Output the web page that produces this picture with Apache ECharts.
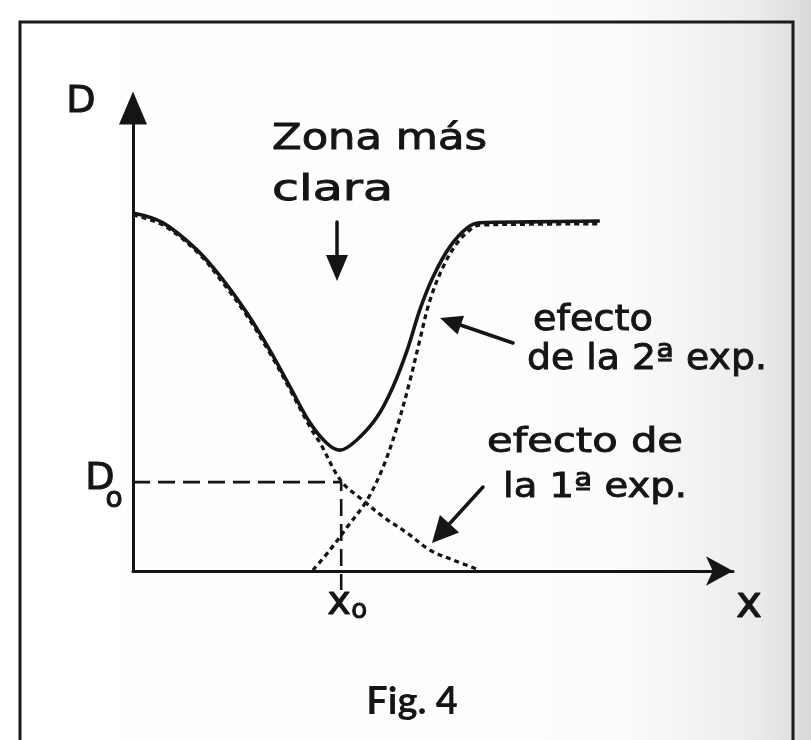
<!DOCTYPE html>
<html>
<head>
<meta charset="utf-8">
<script src="https://cdn.jsdelivr.net/npm/echarts@6/dist/echarts.min.js"></script>
<style>
  html, body { margin: 0; padding: 0; background: #ffffff; }
  #chart { width: 811px; height: 740px; }
</style>
</head>
<body>
<div id="chart"></div>
<script>
// Position along x (0..100) and density D (0..100) of each sketched curve.
// Solid line: total density after both exposures.
const totalX = [0, 5.0, 10.7, 15.0, 19.0, 22.8, 26.2, 29.5, 32.3, 34.5, 37.3, 40.7, 43.3, 45.7, 47.8, 50.0, 52.8, 55.7, 57.8, 66.2, 77.8];
const totalD = [77.3, 75.2, 69.3, 62.9, 55.7, 47.7, 39.7, 32.0, 27.6, 26.1, 28.3, 33.3, 39.7, 47.7, 56.4, 63.5, 70.0, 74.1, 75.2, 75.4, 75.6];
// Dotted line: effect of the first exposure.
const firstX = [0, 5.0, 10.7, 15.0, 19.0, 22.8, 26.2, 29.5, 31.2, 34.7, 38.3, 41.7, 45.7, 49.5, 53.3, 57.8];
const firstD = [76.9, 74.7, 68.9, 62.2, 55.1, 47.1, 39.1, 31.1, 27.6, 19.4, 15.3, 11.7, 8.2, 4.5, 2.4, 0.2];
// Dotted line: effect of the second exposure.
const secondX = [30.0, 32.8, 35.7, 39.0, 41.7, 44.0, 46.2, 47.8, 49.5, 51.7, 54.0, 56.2, 57.8, 66.2, 77.8];
const secondD = [0.2, 4.5, 9.5, 15.3, 22.5, 31.1, 41.3, 49.9, 58.5, 65.7, 70.8, 73.7, 74.7, 74.9, 75.0];
// Reference point: position x0 and density D0.
const x0 = 34.7;
const D0 = 19.2;
const guideBottom = -4.1;

// Texts
const axisNameY = 'D';
const axisNameX = 'x';
const refNameY = ['D', 'o'];
const refNameX = ['x', 'o'];
const noteClear = ['Zona más', 'clara'];
const noteSecond = ['efecto', 'de la 2ª exp.'];
const noteFirst = ['efecto de', 'la 1ª exp.'];
const caption = 'Fig. 4';

const INK = '#151515';
const HAND = '"DejaVu Sans", sans-serif';

const pairs = (xs, ys) => xs.map((x, i) => [x, ys[i]]);

const chart = echarts.init(document.getElementById('chart'), null, { renderer: 'canvas' });

const axisCommon = {
  type: 'value',
  min: 0,
  max: 100,
  axisTick: { show: false },
  axisLabel: { show: false },
  splitLine: { show: false }
};

chart.setOption({
  animation: false,
  grid: { left: 133, right: 78, top: 108, bottom: 169, containLabel: false },
  xAxis: Object.assign({}, axisCommon, {
    axisLine: { show: true, onZero: false, symbol: ['none', 'arrow'], symbolSize: [22, 27],
      lineStyle: { color: INK, width: 3 } }
  }),
  yAxis: Object.assign({}, axisCommon, {
    axisLine: { show: true, onZero: false, symbol: ['none', 'triangle'], symbolSize: [28, 33],
      lineStyle: { color: INK, width: 3 } }
  }),
  series: [
    {
      name: 'D0 / x0',
      type: 'line',
      data: [[0, D0], [x0, D0], [x0, guideBottom]],
      showSymbol: false,
      clip: false,
      lineStyle: { color: INK, width: 2.6, type: [17, 8] },
      z: 2
    },
    {
      name: 'efecto de la 1ª exp.',
      type: 'line',
      data: pairs(firstX, firstD),
      smooth: 0.35,
      showSymbol: false,
      lineStyle: { color: INK, width: 3.3, type: [5, 4] },
      z: 3
    },
    {
      name: 'efecto de la 2ª exp.',
      type: 'line',
      data: pairs(secondX, secondD),
      smooth: 0.35,
      showSymbol: false,
      lineStyle: { color: INK, width: 3.3, type: [5, 4] },
      z: 3
    },
    {
      name: 'total',
      type: 'line',
      data: pairs(totalX, totalD),
      smooth: 0.35,
      showSymbol: false,
      lineStyle: { color: INK, width: 3.6 },
      z: 4
    }
  ]
});

// Text helpers: handwritten labels are stretched horizontally to a target width.
const measureCtx = document.createElement('canvas').getContext('2d');
function handText(str, left, midY, width, size) {
  measureCtx.font = size + 'px ' + HAND;
  const w = measureCtx.measureText(str).width;
  return {
    type: 'text', x: left, y: midY, scaleX: width / w, z: 20,
    style: {
      text: str, fontSize: size, fontFamily: HAND, fill: INK, stroke: INK, lineWidth: 0.9,
      align: 'left', verticalAlign: 'middle', textAlign: 'left', textVerticalAlign: 'middle'
    }
  };
}
function plainText(str, cx, cy, size, family, weight) {
  return {
    type: 'text', x: cx, y: cy, z: 20,
    style: {
      text: str, fontSize: size, fontFamily: family || HAND, fill: INK,
      fontWeight: weight || 'normal',
      stroke: family ? 'none' : INK, lineWidth: family ? 0 : 1.1,
      align: 'center', verticalAlign: 'middle',
      textAlign: 'center', textVerticalAlign: 'middle'
    }
  };
}
function arrow(x1, y1, x2, y2, headLen, headHalf, width) {
  const dx = x2 - x1, dy = y2 - y1;
  const len = Math.sqrt(dx * dx + dy * dy);
  const ux = dx / len, uy = dy / len;
  const bx = x2 - ux * headLen, by = y2 - uy * headLen;
  const px = -uy, py = ux;
  return [
    { type: 'line', z: 20, shape: { x1: x1, y1: y1, x2: bx + ux * 2, y2: by + uy * 2 },
      style: { stroke: INK, lineWidth: width, lineCap: 'round' } },
    { type: 'polygon', z: 20,
      shape: { points: [[x2, y2], [bx + px * headHalf, by + py * headHalf], [bx - px * headHalf, by - py * headHalf]] },
      style: { fill: INK } }
  ];
}

const origin = chart.convertToPixel({ gridIndex: 0 }, [0, 0]);
const refPt = chart.convertToPixel({ gridIndex: 0 }, [x0, D0]);
const xEnd = chart.convertToPixel({ gridIndex: 0 }, [100, 100]);

const graphics = [
  // scanned page shading towards the right edge
  { type: 'rect', z: -10, silent: true, shape: { x: 0, y: 0, width: 811, height: 740 },
    style: { fill: new echarts.graphic.LinearGradient(0, 0, 1, 0, [
      { offset: 0, color: '#ffffff' }, { offset: 0.76, color: '#fcfcfc' },
      { offset: 0.93, color: '#ececec' }, { offset: 1, color: '#dadada' }]) } },
  // figure frame
  { type: 'rect', z: 1, silent: true, shape: { x: 20, y: 22, width: 773, height: 760 },
    style: { fill: 'none', stroke: '#1b1b1b', lineWidth: 3 } },

  // axis names
  plainText(axisNameY, origin[0] - 52, xEnd[1] - 6, 38),
  plainText(axisNameX, xEnd[0] + 16, origin[1] + 35, 44),

  // D0 and x0 labels
  plainText(refNameY[0], origin[0] - 33, refPt[1] - 3, 38),
  plainText(refNameY[1], origin[0] - 19, refPt[1] + 18, 28),
  plainText(refNameX[0], refPt[0] - 2, origin[1] + 33, 40),
  plainText(refNameX[1], refPt[0] + 18, origin[1] + 40, 26),

  // annotations
  handText(noteClear[0], 272, 140, 215, 36),
  handText(noteClear[1], 272, 191, 121, 36),
  handText(noteSecond[0], 533, 321, 120, 36),
  handText(noteSecond[1], 527, 360, 240, 36),
  handText(noteFirst[0], 487, 443, 196, 34),
  handText(noteFirst[1], 503, 488, 184, 34),

  // caption
  plainText(caption, 412, 702, 38, 'Lato, "DejaVu Sans", sans-serif', 'bold')
]
  .concat(arrow(337, 222, 337, 281, 26, 11, 3.5))
  .concat(arrow(513, 343, 440, 318, 22, 10, 3.5))
  .concat(arrow(483, 487, 432, 543, 26, 13, 3.5));

chart.setOption({ graphic: graphics });
</script>
</body>
</html>
